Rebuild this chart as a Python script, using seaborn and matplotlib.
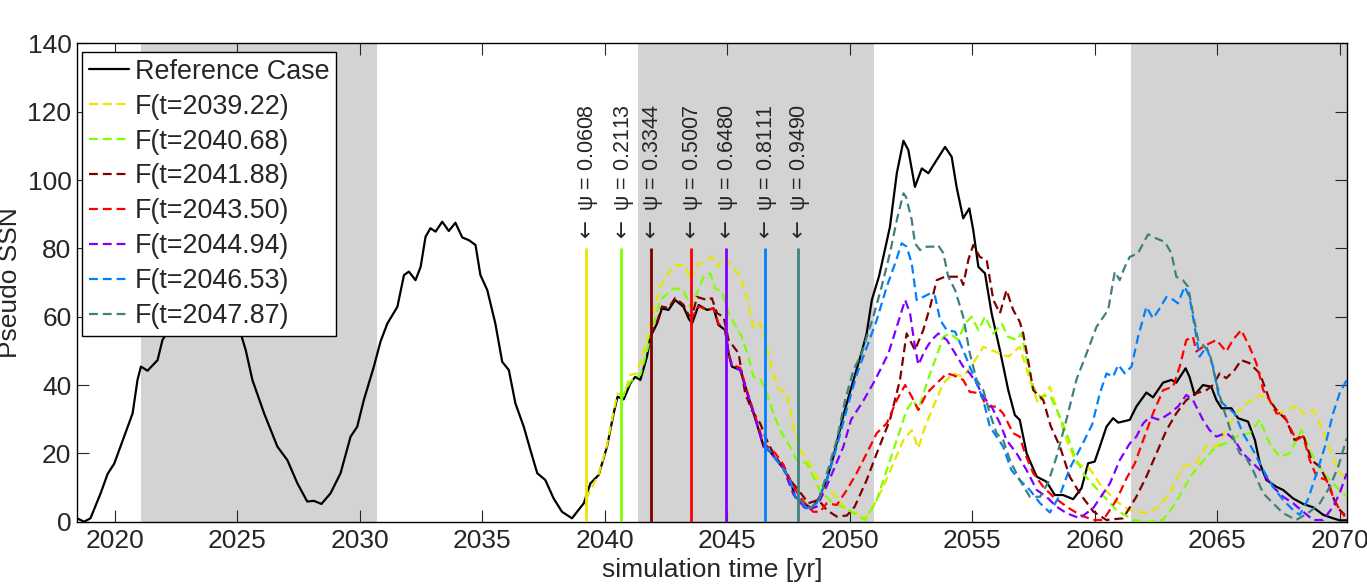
import numpy as np
import pandas as pd
import matplotlib
matplotlib.use('Agg')
import matplotlib.pyplot as plt
import seaborn as sns

# reference run (black line)
ref_yr = [2018.45, 2018.74, 2019.0, 2019.42, 2019.7, 2019.97, 2020.38, 2020.72, 2020.92, 2021.06,
          2021.33, 2021.74, 2021.94, 2022.15, 2022.5, 2023.0, 2023.6, 2024.2, 2024.7, 2025.13,
          2025.34, 2025.61, 2026.09, 2026.63, 2027.04, 2027.45, 2027.85, 2028.12, 2028.43, 2028.8,
          2029.21, 2029.62, 2029.89, 2030.16, 2030.57, 2030.84, 2031.12, 2031.53, 2031.8, 2032.0,
          2032.27, 2032.48, 2032.68, 2032.88, 2033.09, 2033.36, 2033.63, 2033.9, 2034.18, 2034.45,
          2034.72, 2034.92, 2035.2, 2035.53, 2035.81, 2036.08, 2036.35, 2036.69, 2036.96, 2037.24,
          2037.57, 2037.91, 2038.25, 2038.66, 2039.14, 2039.41, 2039.75, 2040.09, 2040.36, 2040.52,
          2040.77, 2041.04, 2041.24, 2041.45, 2041.72, 2041.86, 2042.13, 2042.33, 2042.6, 2042.87,
          2043.21, 2043.42, 2043.56, 2043.83, 2044.17, 2044.44, 2044.64, 2044.91, 2045.05, 2045.19,
          2045.53, 2045.86, 2046.2, 2046.48, 2046.75, 2047.02, 2047.29, 2047.56, 2047.77, 2048.11,
          2048.45, 2048.75, 2049.06, 2049.33, 2049.74, 2050.05, 2050.42, 2050.69, 2050.9, 2051.2,
          2051.64, 2051.92, 2052.19, 2052.39, 2052.66, 2052.94, 2053.21, 2053.55, 2053.89, 2054.16,
          2054.36, 2054.63, 2054.88, 2055.04, 2055.25, 2055.52, 2055.79, 2056.13, 2056.47, 2056.74,
          2056.94, 2057.22, 2057.63, 2058.03, 2058.37, 2058.71, 2059.12, 2059.46, 2059.73, 2060.0,
          2060.21, 2060.48, 2060.75, 2060.96, 2061.43, 2061.7, 2062.11, 2062.38, 2062.79, 2063.13,
          2063.33, 2063.71, 2063.87, 2064.08, 2064.42, 2064.76, 2064.97, 2065.18, 2065.58, 2065.85,
          2066.26, 2066.54, 2066.74, 2067.01, 2067.42, 2067.69, 2068.1, 2068.51, 2068.92, 2069.33,
          2069.73, 2070.0, 2070.29]
ref_ssn = [1.0, 0.0, 1.0, 8.4, 14, 17, 25, 31.7, 41.5, 45.4,
           44.2, 47.3, 53.2, 55.6, 62, 70, 74, 70, 62, 55.2,
           50.2, 41.5, 31.7, 22, 18, 11.2, 5.9, 6.1, 5.2, 8.3,
           14.2, 24.9, 27.8, 35.6, 45.4, 52.7, 58, 62.9, 72.2, 73.2,
           70.7, 74.6, 83.4, 85.9, 84.9, 87.8, 85.1, 87.5, 83.2, 82.4,
           81, 72.2, 67.8, 58, 46.8, 44.4, 34.6, 27.8, 21, 14.2,
           12.2, 6.8, 2.9, 1.0, 5.4, 11.2, 13.7, 22, 31.7, 36.6,
           35.8, 40.5, 42.4, 41.5, 48.3, 54.1, 58, 62.4, 62, 64.9,
           62.9, 59.5, 58, 63.4, 62, 62.4, 57.6, 56.1, 49.3, 45.4,
           44.4, 36.6, 28.8, 22, 20.5, 18, 15.6, 12.2, 7.3, 5.4,
           3.9, 7, 12.2, 19, 31.2, 39, 48, 55.1, 64.9, 72,
           86.3, 102, 111.5, 108.8, 98, 103.4, 102, 105.9, 109.7, 106.8,
           98, 88.8, 91.7, 85.4, 74.6, 72.7, 61, 50.2, 38.5, 31.2,
           29.8, 20, 13.2, 11.7, 7.8, 7.8, 6.6, 9.8, 17.1, 17.6,
           22, 27.8, 30.3, 29, 29.8, 33.7, 37.8, 36.4, 40.7, 41.5,
           40.7, 44.9, 42.4, 37.1, 40, 39.5, 35.6, 33.2, 33.2, 30.3,
           29.3, 23.9, 17.1, 12.2, 10.2, 9.3, 6.8, 5.2, 4.2, 2.0,
           1.0, 0.4, 0.4]

# forecasts started at t0
yr_2039 = [2039.22, 2039.75, 2040.09, 2040.36, 2040.52, 2040.77, 2041.04, 2041.31, 2041.72, 2042.0,
           2042.26, 2042.81, 2043.28, 2043.49, 2043.76, 2044.17, 2044.37, 2044.58, 2044.85, 2045.12,
           2045.53, 2045.8, 2046.07, 2046.34, 2046.55, 2046.82, 2047.09, 2047.43, 2047.7, 2047.97,
           2048.31, 2048.65, 2048.99, 2049.33, 2049.87, 2050.28, 2050.62, 2050.96, 2051.37, 2051.78,
           2052.19, 2052.53, 2052.8, 2053.07, 2053.41, 2053.82, 2054.22, 2054.63, 2055.04, 2055.45,
           2055.79, 2056.13, 2056.47, 2056.94, 2057.35, 2057.69, 2058.17, 2058.51, 2058.85, 2059.25,
           2059.8, 2060.21, 2060.89, 2061.43, 2062.11, 2062.65, 2063.13, 2063.6, 2064.15, 2064.56,
           2064.97, 2065.37, 2065.78, 2066.19, 2066.74, 2067.14, 2067.55, 2067.82, 2068.29, 2068.51,
           2068.92, 2069.25, 2069.6, 2070.0, 2070.29]
ssn_2039 = [6.5, 14, 22.5, 32.5, 37.5, 37, 43, 43.4, 53.2, 62,
            68.8, 75.1, 75.1, 70.7, 75.1, 76.6, 77.5, 74.6, 77.1, 75.6,
            71.7, 65.8, 56.6, 58, 53.2, 44.4, 39, 37.6, 27.8, 21,
            17.5, 13.2, 9, 8.3, 3.4, 2.5, 1.0, 4.4, 10.2, 17.1,
            23.9, 26.8, 21.5, 27.8, 33.7, 40.5, 43.4, 42.4, 46.4, 51.2,
            50.2, 49.3, 48.3, 51.2, 41.5, 34.6, 39.5, 31.7, 23.9, 17.1,
            15.5, 11, 5.9, 3.4, 2.5, 4.4, 9.3, 16.1, 17.1, 22.4,
            22, 26.8, 31.7, 34.6, 37.1, 35.1, 31.7, 32.7, 34.2, 31.7,
            32.7, 27.8, 21, 14.2, 13.2]

yr_2040 = [2040.68, 2041.04, 2041.45, 2041.72, 2042.0, 2042.26, 2042.81, 2043.21, 2043.49, 2043.76,
           2044.03, 2044.3, 2044.5, 2044.78, 2045.05, 2045.32, 2045.59, 2045.86, 2046.07, 2046.34,
           2046.61, 2046.88, 2047.22, 2047.56, 2047.83, 2048.24, 2048.51, 2048.79, 2049.33, 2049.87,
           2050.28, 2050.62, 2051.1, 2051.51, 2051.92, 2052.32, 2052.59, 2052.8, 2053.14, 2053.48,
           2053.82, 2054.09, 2054.43, 2054.7, 2054.98, 2055.25, 2055.52, 2055.86, 2056.2, 2056.47,
           2056.81, 2057.01, 2057.22, 2057.49, 2057.77, 2058.17, 2058.58, 2058.85, 2059.19, 2059.6,
           2060.1, 2060.89, 2061.57, 2062.2, 2062.78, 2063.2, 2063.6, 2064.01, 2064.56, 2064.97,
           2065.37, 2065.78, 2066.32, 2066.74, 2067.14, 2067.55, 2067.96, 2068.44, 2068.78, 2069.06,
           2069.46, 2069.87, 2070.29]
ssn_2040 = [36, 41, 43, 50, 58, 64.9, 68.3, 67.8, 62.9, 66.8,
            71.7, 72.7, 68.3, 67.3, 61, 57.6, 54.1, 48.3, 42.4, 42,
            37.6, 31.7, 25.9, 22, 18, 17.1, 13.2, 9, 5.4, 3.9,
            2, 0.5, 6.4, 15.1, 23.9, 32.7, 35.6, 32.7, 40.5, 47.3,
            54.1, 55.1, 53.2, 58, 60, 56.1, 60, 55.1, 58, 54.1,
            53.2, 55.1, 47.3, 39.5, 36.6, 37, 30.7, 25.9, 19, 13.5,
            9.5, 3.4, 0.5, 0, 0.5, 4.4, 9.3, 14.2, 19, 22,
            23, 24.9, 25.9, 29.8, 22.9, 19, 20, 26.8, 21, 17.1,
            13.2, 10.2, 7.3]

yr_2041 = [2041.88, 2042.13, 2042.33, 2042.6, 2042.87, 2043.21, 2043.42, 2043.56, 2043.76, 2044.17,
           2044.37, 2044.58, 2044.85, 2045.05, 2045.26, 2045.46, 2045.73, 2046.0, 2046.34, 2046.61,
           2046.88, 2047.16, 2047.56, 2047.9, 2048.31, 2048.72, 2049.06, 2049.47, 2049.88, 2050.2,
           2050.69, 2051.1, 2051.64, 2052.05, 2052.32, 2052.66, 2053.0, 2053.28, 2053.55, 2053.89,
           2054.22, 2054.5, 2054.63, 2054.84, 2055.04, 2055.31, 2055.59, 2055.86, 2056.13, 2056.4,
           2056.67, 2056.94, 2057.08, 2057.28, 2057.49, 2057.9, 2058.2, 2058.58, 2058.98, 2059.39,
           2059.94, 2060.48, 2061.16, 2061.7, 2062.11, 2062.52, 2062.93, 2063.33, 2063.74, 2064.15,
           2064.56, 2064.83, 2065.1, 2065.37, 2065.71, 2065.98, 2066.32, 2066.74, 2067.14, 2067.42,
           2067.82, 2068.16, 2068.51, 2068.85, 2069.19, 2069.6, 2069.87, 2070.21]
ssn_2041 = [54.5, 58.5, 63, 62.5, 65.5, 63.5, 60.5, 60, 65.8, 64.9,
            65.4, 61, 60, 53.2, 51.2, 49.3, 37.6, 32.7, 28.8, 23.9,
            20, 17.1, 12.2, 9.3, 5.4, 6.4, 3.4, 1.5, 1.8, 4.4,
            12.2, 20, 29.8, 41.5, 55.1, 50.2, 56.1, 62.9, 70.7, 71.7,
            71.7, 71.7, 69.3, 76.6, 81, 77.5, 76.6, 64.9, 61, 67.8,
            62, 58.5, 55.1, 47.3, 38.5, 35.6, 28, 22, 13.2, 8.3,
            3, 0.5, 1, 7.3, 13.2, 20, 26.8, 31.7, 35.6, 37.6,
            38.5, 40, 43.4, 42, 44.4, 47.3, 46.4, 43.4, 35.6, 32.7,
            29.8, 23.9, 25.4, 18, 16.1, 10.2, 4.4, 2]

yr_2043 = [2043.5, 2043.83, 2044.17, 2044.44, 2044.64, 2044.91, 2045.05, 2045.19, 2045.53, 2045.86,
           2046.2, 2046.48, 2046.96, 2047.29, 2047.7, 2048.11, 2048.51, 2048.79, 2049.06, 2049.47,
           2049.88, 2050.28, 2050.69, 2051.1, 2051.51, 2051.92, 2052.26, 2052.53, 2052.8, 2053.14,
           2053.55, 2053.96, 2054.22, 2054.63, 2054.9, 2055.31, 2055.59, 2055.99, 2056.26, 2056.67,
           2056.94, 2057.15, 2057.49, 2057.9, 2058.31, 2058.85, 2059.39, 2059.94, 2060.35, 2060.89,
           2061.3, 2061.64, 2061.98, 2062.38, 2062.79, 2063.2, 2063.47, 2063.74, 2064.01, 2064.15,
           2064.42, 2064.69, 2064.97, 2065.37, 2065.64, 2065.98, 2066.32, 2066.6, 2066.88, 2067.14,
           2067.42, 2067.69, 2067.96, 2068.23, 2068.51, 2068.78, 2069.06, 2069.46, 2069.73, 2070.0,
           2070.21]
ssn_2043 = [59, 63, 62, 62.5, 58, 56.5, 49.5, 46, 45, 37,
            29.5, 23, 20, 16.7, 10.2, 5.9, 2.9, 2.9, 5.4, 4.9,
            9.3, 14.2, 20, 25.9, 28.8, 35.6, 40, 36.6, 32.7, 37.6,
            40.5, 43.4, 42.9, 41.5, 38, 37.6, 33.7, 33.7, 31.7, 25.9,
            24.9, 20, 14.2, 10.2, 7.3, 4.4, 2, 0.5, 0.5, 6.4,
            12.7, 17.1, 23.9, 31.7, 38.5, 39.5, 45.4, 53.2, 54.1, 49.8,
            51.2, 52.2, 53.2, 49.8, 53.2, 56.1, 51.2, 46.4, 38.5, 35.6,
            31.7, 31.7, 27.8, 23.9, 25, 18, 13.2, 12.2, 7.3, 3.4,
            1.5]

yr_2044 = [2044.94, 2045.05, 2045.19, 2045.53, 2045.86, 2046.2, 2046.48, 2046.75, 2047.02, 2047.29,
           2047.7, 2048.24, 2048.65, 2048.99, 2049.33, 2049.74, 2050.05, 2050.56, 2050.96, 2051.24,
           2051.58, 2051.92, 2052.26, 2052.46, 2052.66, 2052.8, 2053.07, 2053.34, 2053.62, 2053.96,
           2054.3, 2054.63, 2054.9, 2055.18, 2055.45, 2055.79, 2056.13, 2056.4, 2056.81, 2057.22,
           2057.63, 2058.03, 2058.44, 2058.85, 2059.39, 2059.94, 2060.62, 2061.02, 2061.43, 2061.7,
           2061.98, 2062.25, 2062.65, 2063.06, 2063.4, 2063.74, 2064.01, 2064.42, 2064.69, 2064.97,
           2065.37, 2065.71, 2066.05, 2066.46, 2066.88, 2067.28, 2067.69, 2068.1, 2068.51, 2068.92,
           2069.33, 2069.73, 2070.0, 2070.29]
ssn_2044 = [56, 49.3, 45.4, 44.4, 36.6, 28.8, 22, 20.5, 18, 15.6,
            8, 3.4, 4.4, 9.3, 15, 22, 29.8, 35.5, 40.5, 44.4,
            49.3, 57.1, 64.9, 61, 51.2, 45.9, 50.2, 53.2, 55.1, 53.2,
            49.3, 45.4, 43.4, 40.5, 36.6, 33.7, 28.8, 23.9, 20, 15.1,
            9.3, 7.3, 4.4, 2.5, 1, 4, 11.2, 18, 22.9, 24.9,
            28.8, 30.7, 29.8, 31.7, 33.7, 37.1, 35.6, 29.8, 26.8, 24.9,
            26, 23.9, 20, 17.1, 14.2, 10.2, 7.3, 5.4, 2.9, 0.5,
            0.5, 4.4, 8.3, 14.2]

yr_2046 = [2046.53, 2046.75, 2047.02, 2047.29, 2047.56, 2047.77, 2048.24, 2048.65, 2049.06, 2049.47,
           2049.88, 2050.28, 2050.69, 2051.1, 2051.51, 2051.85, 2052.12, 2052.32, 2052.53, 2052.73,
           2053.0, 2053.28, 2053.48, 2053.69, 2053.96, 2054.3, 2054.63, 2054.9, 2055.18, 2055.45,
           2055.72, 2055.99, 2056.26, 2056.6, 2056.94, 2057.35, 2057.77, 2058.17, 2058.58, 2058.98,
           2059.45, 2059.9, 2060.21, 2060.48, 2060.75, 2060.96, 2061.23, 2061.5, 2061.77, 2062.11,
           2062.38, 2062.65, 2062.93, 2063.2, 2063.4, 2063.67, 2063.87, 2064.08, 2064.28, 2064.56,
           2064.83, 2065.1, 2065.37, 2065.71, 2066.05, 2066.46, 2066.88, 2067.28, 2067.69, 2068.1,
           2068.37, 2068.7, 2069.06, 2069.4, 2069.73, 2070.0, 2070.29]
ssn_2046 = [22, 20.5, 18, 15.6, 12.2, 7.5, 3.9, 5.4, 12.2, 22,
            33, 43, 51, 59, 68.8, 75.6, 81.5, 80.5, 75.6, 64.9,
            65.8, 66.8, 66, 59, 56.1, 55.6, 50.2, 45.4, 40.5, 35.6,
            27.8, 24.9, 22, 15.1, 12.2, 9.3, 5.4, 2.7, 7.8, 15.6,
            22, 28.5, 37.6, 43.4, 42.4, 45.9, 43.4, 45.4, 54.1, 62.9,
            59.5, 62.4, 65.8, 65, 63.9, 68.8, 65.8, 57.1, 48.3, 51.2,
            45.4, 35.6, 33.7, 31.7, 25.9, 21, 15.1, 10.2, 6.4, 3.4,
            2, 6.4, 14.2, 22, 31.7, 37.6, 41.5]

yr_2047 = [2047.87, 2048.11, 2048.4, 2048.72, 2049.06, 2049.47, 2049.81, 2050.15, 2050.49, 2050.69,
           2050.96, 2051.3, 2051.64, 2051.92, 2052.19, 2052.3, 2052.53, 2052.66, 2052.87, 2053.14,
           2053.41, 2053.6, 2053.82, 2054.02, 2054.3, 2054.63, 2054.9, 2055.18, 2055.45, 2055.72,
           2055.99, 2056.26, 2056.54, 2056.94, 2057.35, 2057.77, 2058.1, 2058.44, 2058.85, 2059.25,
           2059.67, 2060.07, 2060.55, 2060.82, 2061.02, 2061.23, 2061.43, 2061.77, 2061.98, 2062.18,
           2062.52, 2062.86, 2063.13, 2063.33, 2063.6, 2063.81, 2064.01, 2064.22, 2064.49, 2064.69,
           2064.97, 2065.23, 2065.58, 2065.92, 2066.19, 2066.46, 2066.88, 2067.28, 2067.69, 2068.23,
           2068.78, 2069.19, 2069.6, 2069.94, 2070.29]
ssn_2047 = [7, 5.4, 4, 6, 14, 23.9, 35.6, 44.4, 49.3, 54,
            60, 68.8, 78.6, 88.3, 96.1, 95, 88.3, 81.5, 79.5, 80.5,
            80.5, 81, 78.6, 71.7, 67.8, 60, 49.3, 41.5, 38.5, 31.7,
            25.9, 23.9, 18, 12.2, 7.3, 7.3, 11.5, 19, 30, 41.5,
            49.3, 57, 62, 73.2, 70.7, 74.6, 77.5, 78.6, 81.5, 84.1,
            82.9, 81.9, 78.6, 71.7, 70.7, 68.8, 61, 53.2, 51.2, 49.3,
            40.5, 33.7, 25.9, 20, 18.6, 15.1, 8.3, 5.4, 2.5, 0.5,
            2.9, 5.4, 10.2, 16.1, 24.4]

start_times = [2039.22, 2040.68, 2041.88, 2043.50, 2044.94, 2046.53, 2047.87]
psi_values = ['0.0608', '0.2113', '0.3344', '0.5007', '0.6480', '0.8111', '0.9490']
forecast_colors = ['#e6e600', '#80ff00', '#800000', '#ff0000', '#8000ff', '#0080ff', '#408080']
forecast_yrs = [yr_2039, yr_2040, yr_2041, yr_2043, yr_2044, yr_2046, yr_2047]
forecast_ssn = [ssn_2039, ssn_2040, ssn_2041, ssn_2043, ssn_2044, ssn_2046, ssn_2047]

# grey bands (cycle phases)
bands = [(2021.06, 2030.68), (2041.37, 2050.99), (2061.47, 2071.0)]

sns.set_style('ticks')
plt.rcParams['font.family'] = ['Liberation Sans', 'DejaVu Sans']
plt.rcParams['mathtext.fontset'] = 'dejavusans'

fig = plt.figure(figsize=(13.67, 5.86), dpi=100)
ax = fig.add_axes([77 / 1367, 1 - 521.7 / 586, 1270 / 1367, 478.3 / 586])

for b0, b1 in bands:
    ax.axvspan(b0, b1, color='#d3d3d3', lw=0, zorder=0)

df_ref = pd.DataFrame({'yr': ref_yr, 'ssn': ref_ssn})
sns.lineplot(data=df_ref, x='yr', y='ssn', color='black', lw=1.6, label='Reference Case', ax=ax, zorder=3)

for t0, c, yrs, vals in zip(start_times, forecast_colors, forecast_yrs, forecast_ssn):
    d = pd.DataFrame({'yr': yrs, 'ssn': vals})
    sns.lineplot(data=d, x='yr', y='ssn', color=c, lw=1.6, linestyle=(0, (4, 2.2)),
                 label='F(t=%.2f)' % t0, ax=ax, zorder=4)

for t0, c, p in zip(start_times, forecast_colors, psi_values):
    ax.vlines(t0, 0, 80, color=c, lw=2, zorder=5)
    ax.text(t0 + 0.1, 81.5, r'$\leftarrow$ ' + '\u03c8 = ' + p, rotation=90, ha='center', va='bottom',
            fontsize=15.5, zorder=6)

ax.set_xlim(2018.45, 2070.3)
ax.set_ylim(0, 140)
ax.set_xticks(np.arange(2020, 2071, 5))
ax.set_yticks(np.arange(0, 141, 20))
ax.tick_params(direction='in', length=8.5, width=0.8, top=True, right=True, labelsize=19, pad=5)
ax.tick_params(axis='y', pad=4)
for s in ax.spines.values():
    s.set_linewidth(1.0)
    s.set_color('black')
ax.set_xlabel('simulation time [yr]', fontsize=19, labelpad=4)
ax.set_ylabel('Pseudo SSN', fontsize=19, labelpad=4)

leg = ax.legend(loc='upper left', bbox_to_anchor=(0.004, 0.982), borderaxespad=0, fontsize=19.4,
                frameon=True, fancybox=False, framealpha=1, edgecolor='black',
                handlelength=1.5, handletextpad=0.2, labelspacing=0.33, borderpad=0.25)
leg.get_frame().set_linewidth(1.0)
leg.set_zorder(10)

fig.savefig('out.png', dpi=100)
